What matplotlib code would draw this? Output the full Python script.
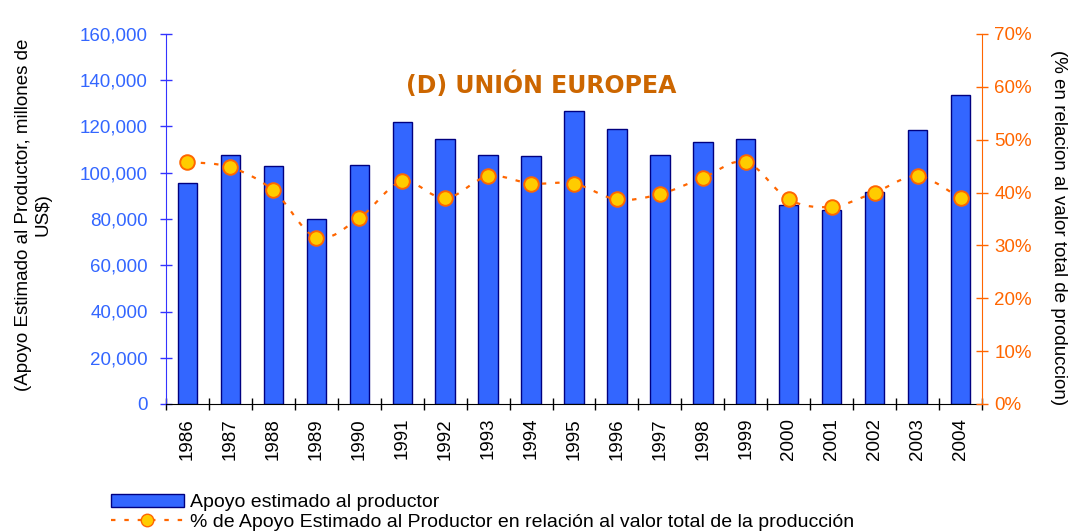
import numpy as np
import matplotlib
matplotlib.use("Agg")
import matplotlib.pyplot as plt
from matplotlib.path import Path
from matplotlib.patches import PathPatch, Patch
from matplotlib.lines import Line2D
from matplotlib.ticker import FuncFormatter, FixedLocator

plt.rcParams['font.family'] = ['Liberation Sans', 'DejaVu Sans']

years = ['1986', '1987', '1988', '1989', '1990', '1991', '1992', '1993', '1994', '1995',
         '1996', '1997', '1998', '1999', '2000', '2001', '2002', '2003', '2004']
apoyo = [95500, 107700, 102900, 80000, 103300, 122100, 114500, 107700, 107100, 126500,
         118900, 107700, 113300, 114500, 86200, 84000, 91800, 118500, 133800]
pct = [45.8, 44.8, 40.4, 31.5, 35.2, 42.1, 38.9, 43.1, 41.7, 41.7,
       38.7, 39.7, 42.8, 45.8, 38.7, 37.3, 40.0, 43.1, 38.9]

title = '(D) UNIÓN EUROPEA'
ylabel_left = '(Apoyo Estimado al Productor, millones de\nUS$)'
ylabel_right = '(% en relacion al valor total de produccion)'
leg_bar = 'Apoyo estimado al productor'
leg_line = '% de Apoyo Estimado al Productor en relación al valor total de la producción'

BAR = '#3366FF'
BAR_EDGE = '#000080'
ORANGE = '#FF6600'
YELLOW = '#FFCC00'
BLUE_AX = '#3333FF'
BLUE_TXT = '#3366FF'
TITLE_C = '#CC6600'
FS = 13.5

fig = plt.figure(figsize=(10.68, 5.31), dpi=100)
ax = fig.add_axes([166/1068, 1-404/531, 816/1068, 370/531])
x = np.arange(len(years))
ax.bar(x, apoyo, width=0.45, color=BAR, edgecolor=BAR_EDGE, linewidth=1.0, zorder=2)
ax.set_xlim(-0.5, len(years)-0.5)
ax.set_ylim(0, 160000)
ax.set_yticks(np.arange(0, 160001, 20000))
ax.yaxis.set_major_formatter(FuncFormatter(lambda v, p: f"{v:,.0f}"))
ax.tick_params(axis='y', colors=BLUE_AX, labelcolor=BLUE_TXT, direction='inout',
               length=9, width=1, pad=8.5, labelsize=FS)
ax.spines['left'].set_color(BLUE_AX)
ax.spines['top'].set_visible(False)
ax.spines['right'].set_visible(False)
ax.spines['bottom'].set_color('black')

ax.xaxis.set_major_locator(FixedLocator(np.arange(-0.5, len(years), 1)))
ax.xaxis.set_minor_locator(FixedLocator(x))
ax.set_xticklabels([])
ax.set_xticklabels(years, minor=True, rotation=90)
ax.tick_params(axis='x', which='major', direction='inout', length=9, width=1, colors='black')
ax.tick_params(axis='x', which='minor', length=0, pad=10, labelsize=FS)

ax2 = ax.twinx()
ax2.set_ylim(0, 70)
ax2.set_yticks(np.arange(0, 71, 10))
ax2.yaxis.set_major_formatter(FuncFormatter(lambda v, p: f"{v:.0f}%"))
ax2.tick_params(axis='y', colors=ORANGE, labelcolor=ORANGE, direction='inout',
                length=8, width=1, pad=5, labelsize=FS)
ax2.spines['right'].set_color(ORANGE)
for s in ['top', 'left', 'bottom']:
    ax2.spines[s].set_visible(False)

# smooth (Catmull-Rom) dashed curve through the points
px = np.asarray(x, float)
py = np.asarray(pct, float)
pts = np.column_stack([px, py])
verts = [tuple(pts[0])]
codes = [Path.MOVETO]
n = len(pts)
for i in range(n-1):
    p0 = pts[max(i-1, 0)]
    p1 = pts[i]
    p2 = pts[i+1]
    p3 = pts[min(i+2, n-1)]
    c1 = p1 + (p2 - p0) / 6.0
    c2 = p2 - (p3 - p1) / 6.0
    verts += [tuple(c1), tuple(c2), tuple(p2)]
    codes += [Path.CURVE4]*3
path = Path(verts, codes)
ax2.add_patch(PathPatch(path, fill=False, edgecolor=ORANGE, linewidth=1.6,
                        linestyle=(0, (2, 4)), zorder=3))
ax2.plot(px, py, linestyle='none', marker='o', markersize=10.5,
         markerfacecolor=YELLOW, markeredgecolor=ORANGE, markeredgewidth=1.4, zorder=4)

fig.text(541/1068, 1-85/531, title, ha='center', va='center', fontsize=17,
         fontweight='bold', color=TITLE_C, family='DejaVu Sans')
fig.text(33/1068, 1-215/531, ylabel_left, rotation=90, ha='center', va='center',
         fontsize=FS, multialignment='center')
fig.text(1059/1068, 1-228/531, ylabel_right, rotation=270, ha='center', va='center',
         fontsize=FS)

handles = [Patch(facecolor=BAR, edgecolor=BAR_EDGE, linewidth=1.0),
           Line2D([0], [0], color=ORANGE, linewidth=1.6, linestyle=(0, (2, 4)),
                  marker='o', markersize=9, markerfacecolor=YELLOW,
                  markeredgecolor=ORANGE)]
fig.legend(handles, [leg_bar, leg_line], loc='upper left',
           bbox_to_anchor=(111/1068, 1-494/531), frameon=False, fontsize=14,
           borderpad=0, borderaxespad=0, labelspacing=0.1, handlelength=3.75,
           handleheight=0.67, handletextpad=0.3)

fig.savefig('out.png', dpi=100)
